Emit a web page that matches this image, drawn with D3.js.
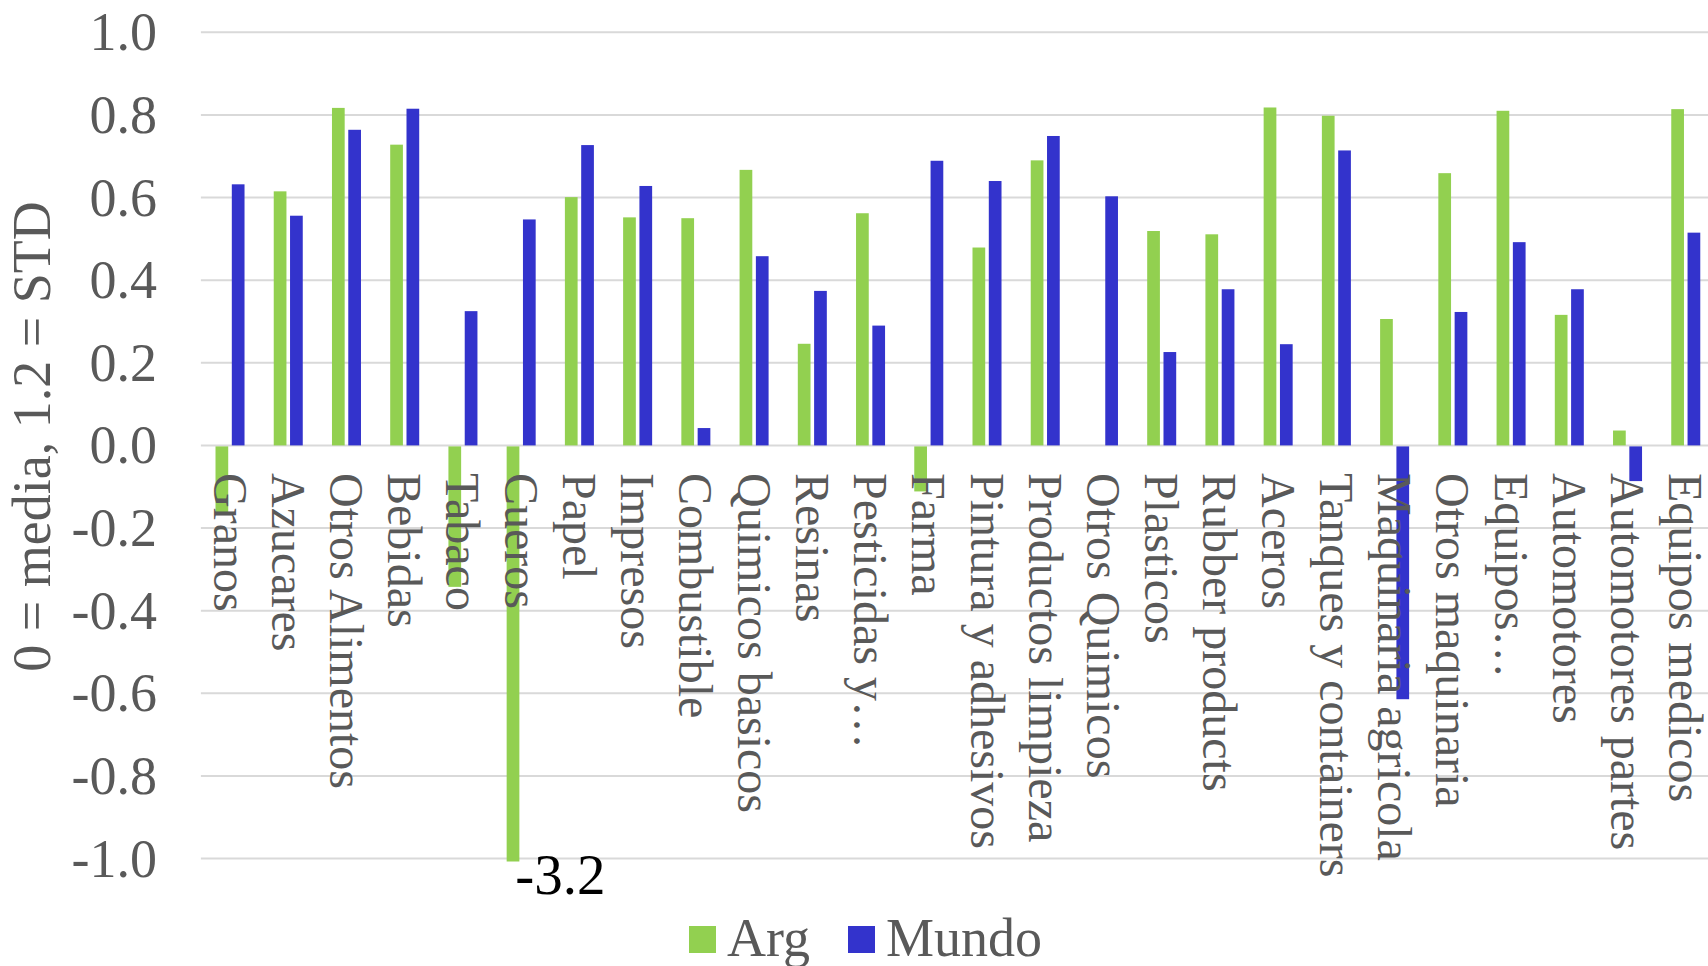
<!DOCTYPE html>
<html>
<head>
<meta charset="utf-8">
<script src="https://cdn.jsdelivr.net/npm/d3@7"></script>
<style>
  html, body { margin: 0; padding: 0; background: #ffffff; }
  svg { display: block; }
  text { font-family: "Liberation Serif", "Times New Roman", serif; }
</style>
</head>
<body>
<svg id="chart" width="1708" height="966"></svg>
<script>
// ---- data ----
const categories = [
  "Granos", "Azucares", "Otros Alimentos", "Bebidas", "Tabaco", "Cueros",
  "Papel", "Impresos", "Combustible", "Quimicos basicos", "Resinas",
  "Pesticidas y\u2026", "Farma", "Pintura y adhesivos", "Productos limpieza",
  "Otros Quimicos", "Plasticos", "Rubber products", "Aceros",
  "Tanques y containers", "Maquinaria agricola", "Otros maquinaria",
  "Equipos\u2026", "Automotores", "Automotores partes", "Equipos medicos"
];
const argValues = [
  -0.16, 0.615, 0.817, 0.728, -0.34, -3.2,
  0.601, 0.552, 0.55, 0.667, 0.246,
  0.562, -0.109, 0.479, 0.69,
  0, 0.519, 0.511, 0.818,
  0.798, 0.306, 0.659,
  0.81, 0.316, 0.036, 0.814
];
const mundoValues = [
  0.632, 0.556, 0.764, 0.815, 0.325, 0.547,
  0.727, 0.628, 0.042, 0.458, 0.374,
  0.29, 0.689, 0.64, 0.749,
  0.603, 0.226, 0.378, 0.245,
  0.714, -0.612, 0.323,
  0.492, 0.378, -0.084, 0.515
];
const seriesNames = ["Arg", "Mundo"];
const seriesColors = ["#92D050", "#3333CC"];
const yTicks = [-1.0, -0.8, -0.6, -0.4, -0.2, 0.0, 0.2, 0.4, 0.6, 0.8, 1.0];
const yTitle = "0 = media, 1.2 = STD";
const clippedNote = "-3.2";

// ---- layout ----
const svg = d3.select("#chart");
const plotLeft = 200.9, step = 58.23;
const x = d3.scaleBand().domain(categories)
  .range([plotLeft, plotLeft + step * categories.length]).padding(0);
const xInner = d3.scaleBand().domain(seriesNames)
  .range([0, x.bandwidth()]).paddingInner(0.22).paddingOuter(0.896);
const y = d3.scaleLinear().domain([-1, 1]).range([858.5, 32.3]);
const yc = v => y(Math.max(-1, Math.min(1, v)));
const fmt = v => d3.format(".1f")(v).replace("\u2212", "-");

// gridlines
svg.append("g").selectAll("line").data(yTicks).join("line")
  .attr("x1", plotLeft).attr("x2", 1708)
  .attr("y1", d => y(d)).attr("y2", d => y(d))
  .attr("stroke", "#D9D9D9").attr("stroke-width", 2);

// y tick labels
svg.append("g").selectAll("text").data(yTicks).join("text")
  .attr("x", 157).attr("y", d => y(d) + 18)
  .attr("text-anchor", "end")
  .attr("font-size", 54).attr("fill", "#595959")
  .text(d => fmt(d));

// y title
svg.append("text")
  .attr("transform", "translate(50,436.5) rotate(-90)")
  .attr("text-anchor", "middle")
  .attr("font-size", 54).attr("fill", "#595959")
  .text(yTitle);

// bars
const rows = categories.map((c, i) => ({ cat: c, vals: [argValues[i], mundoValues[i]] }));
const gBars = svg.append("g");
rows.forEach(r => {
  r.vals.forEach((v, k) => {
    if (v === 0) return;
    const y0 = y(0), y1 = yc(v);
    gBars.append("rect")
      .attr("x", x(r.cat) + xInner(seriesNames[k]))
      .attr("width", xInner.bandwidth())
      .attr("y", Math.min(y0, y1) + (v > 0 ? 0 : 1))
      .attr("height", Math.abs(y1 - y0) + (v < -1 ? 2 : 0))
      .attr("fill", seriesColors[k]);
  });
});

// category labels (rotated, on top of bars)
svg.append("g").selectAll("text").data(categories).join("text")
  .attr("transform", d => `translate(${x(d) + x.bandwidth() / 2},473) rotate(90)`)
  .attr("dy", 16.5)
  .attr("font-size", 48).attr("fill", "#595959")
  .text(d => d);

// note for clipped bar
const cueros = "Cueros";
svg.append("text")
  .attr("x", x(cueros) + xInner("Arg") + xInner.bandwidth() - 4)
  .attr("y", y(-1) + 35)
  .attr("font-size", 57).attr("fill", "#000000")
  .text(clippedNote);

// legend
const legend = svg.append("g");
const legendItems = [
  { name: seriesNames[0], color: seriesColors[0], sx: 689, tx: 727 },
  { name: seriesNames[1], color: seriesColors[1], sx: 848, tx: 886 }
];
legendItems.forEach(it => {
  legend.append("rect").attr("x", it.sx).attr("y", 926).attr("width", 27).attr("height", 27)
    .attr("fill", it.color);
  legend.append("text").attr("x", it.tx).attr("y", 956)
    .attr("font-size", 54).attr("fill", "#595959").text(it.name);
});
</script>
</body>
</html>
